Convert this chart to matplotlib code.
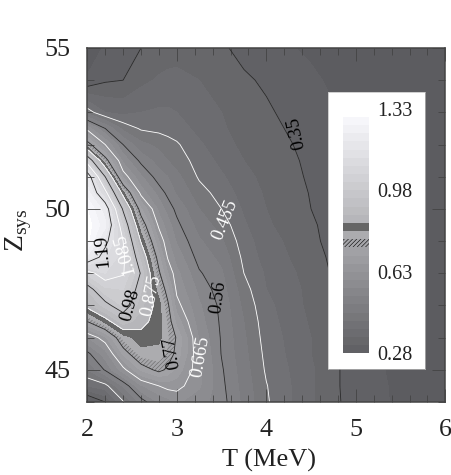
import numpy as np
import matplotlib
matplotlib.use('Agg')
import matplotlib.pyplot as plt
from matplotlib.colors import ListedColormap, BoundaryNorm

plt.rcParams['font.family'] = 'Liberation Serif'
plt.rcParams['mathtext.fontset'] = 'custom'
plt.rcParams['mathtext.rm'] = 'Liberation Serif'
plt.rcParams['hatch.linewidth'] = 0.4
plt.rcParams['hatch.color'] = '#666666'

temps = [2, 2.2, 2.4, 2.6, 2.8, 2.9, 3, 3.25, 3.5, 3.75, 4, 4.5, 5, 5.5, 6]
zsys = [55, 54, 53, 52.5, 52, 51.5, 51, 50.5, 50, 49.5, 49, 48.5, 48, 47.5, 47, 46.5, 46, 45.5, 45, 44.5, 44]

# one row per zsys, one column per temps
values = [
    [.29, .32, .335, .35, .36, .365, .37, .365, .355, .34, .325, .31, .295, .29, .285],
    [.32, .345, .35, .375, .39, .395, .395, .385, .37, .355, .345, .32, .30, .295, .285],
    [.475, .42, .41, .42, .425, .425, .42, .40, .385, .365, .355, .33, .305, .295, .285],
    [.65, .56, .48, .45, .445, .44, .435, .41, .39, .37, .36, .335, .308, .298, .285],
    [.80, .665, .56, .50, .48, .47, .46, .425, .40, .375, .365, .34, .31, .30, .29],
    [1.05, .80, .62, .55, .51, .49, .475, .44, .41, .385, .37, .343, .312, .30, .29],
    [1.24, .98, .69, .60, .54, .525, .50, .45, .425, .395, .375, .345, .315, .30, .29],
    [1.28, 1.11, .85, .65, .58, .55, .52, .47, .44, .405, .38, .348, .315, .302, .29],
    [1.33, 1.24, .97, .74, .62, .58, .55, .49, .455, .415, .385, .35, .318, .302, .29],
    [1.35, 1.27, 1.04, .81, .655, .61, .57, .51, .475, .425, .39, .355, .32, .302, .29],
    [1.34, 1.21, 1.085, .87, .70, .635, .59, .53, .495, .435, .40, .358, .32, .305, .29],
    [1.25, 1.16, 1.10, .93, .745, .66, .615, .545, .515, .445, .405, .365, .32, .305, .29],
    [1.06, 1.12, 1.09, .975, .78, .70, .64, .565, .53, .455, .415, .37, .322, .305, .29],
    [.95, 1.04, 1.05, .95, .82, .745, .655, .585, .54, .47, .42, .375, .322, .305, .29],
    [.895, .96, 1.02, .92, .855, .78, .68, .60, .55, .48, .43, .375, .322, .305, .29],
    [.77, .85, .93, .89, .855, .80, .72, .61, .553, .49, .435, .38, .325, .305, .29],
    [.627, .69, .82, .86, .85, .81, .765, .625, .556, .495, .44, .385, .325, .308, .295],
    [.55, .612, .74, .825, .825, .80, .755, .635, .558, .50, .445, .385, .325, .308, .295],
    [.49, .565, .65, .74, .785, .76, .72, .64, .565, .505, .45, .39, .328, .308, .295],
    [.42, .44, .53, .625, .665, .68, .68, .635, .57, .51, .457, .39, .328, .31, .295],
    [.30, .35, .45, .54, .60, .615, .635, .61, .575, .515, .46, .39, .33, .31, .295],
]

levels = [round(0.28 + 0.035 * k, 3) for k in range(31)]
black_levels = [0.35, 0.56, 0.77, 0.98, 1.19]
white_levels = [0.455, 0.665, 0.875, 1.085]
bar_ticks = [0.28, 0.63, 0.98, 1.33]

# text, T, Z, rotation, colour
line_labels = [
    ('0.35', 4.34, 52.35, 102, 'black'),
    ('0.455', 3.54, 49.65, 68, 'white'),
    ('0.56', 3.46, 47.26, 82, 'black'),
    ('0.665', 3.26, 45.4, 80, 'white'),
    ('0.77', 2.95, 45.55, 100, 'black'),
    ('0.875', 2.72, 47.3, 78, 'white'),
    ('0.98', 2.48, 47.0, 75, 'black'),
    ('1.085', 2.42, 48.6, 105, 'white'),
    ('1.19', 2.17, 48.7, 95, 'black'),
]

greys = np.linspace(92, 246, 30) / 255
colors = [(g, g, min(g + 0.015, 1)) for g in greys]
colors[16] = '#666666'
cmap = ListedColormap(colors)
cmap.set_under(colors[0])
cmap.set_over('white')
norm = BoundaryNorm(levels, 30)

fig = plt.figure(figsize=(4.51, 4.75), dpi=100)
ax = fig.add_axes([87.3 / 451, 73 / 475, 358 / 451, 354 / 475])

ax.contourf(temps, zsys, values, levels=levels, cmap=cmap, norm=norm, extend='both')
ax.contourf(temps, zsys, values, levels=[0.77, 0.805], colors='none', hatches=['////////'])
ax.contour(temps, zsys, values, levels=black_levels, colors='#2a2a2a', linewidths=0.6)
ax.contour(temps, zsys, values, levels=white_levels, colors='white', linewidths=0.6)

for text, t, z, rot, col in line_labels:
    ax.text(t, z, text, rotation=rot, color=col, fontsize=13.5, ha='center', va='center',
            rotation_mode='anchor')

ax.set_xlim(2, 6)
ax.set_ylim(44, 55)
ax.set_xticks([2, 3, 4, 5, 6])
ax.set_xticks(np.arange(2, 6.01, 0.2), minor=True)
ax.set_yticks([45, 50, 55])
ax.set_yticks(np.arange(44, 55.01, 1), minor=True)
ax.tick_params(which='major', direction='in', length=9.4, width=0.6, color='#444444',
               top=True, right=True, labelsize=18.7, pad=12, labelcolor='#222222')
ax.tick_params(which='minor', direction='in', length=5, width=0.6, color='#444444',
               top=True, right=True)
for s in ax.spines.values():
    s.set_linewidth(1.1)
    s.set_color('#444444')

fig.text(269 / 451, 1 - 460 / 475, 'T (MeV)', fontsize=19, color='#222222', ha='center', va='center')
fig.text(19 / 451, 1 - 230 / 475, r'Z$_{\mathrm{sys}}$', fontsize=20, color='#222222',
         rotation=90, ha='center', va='center')

# colour bar on its white box
box = fig.add_axes([328.3 / 451, 1 - 369 / 475, 96.7 / 451, 277 / 475])
box.set_xticks([])
box.set_yticks([])
for s in box.spines.values():
    s.set_linewidth(0.5)
    s.set_color('#bbbbbb')

bar = fig.add_axes([342.7 / 451, 1 - 353.3 / 475, 26.3 / 451, 236.3 / 475])
bar.pcolormesh([0, 1], levels[1:], np.array(levels[1:-1]).reshape(-1, 1) + 0.01, cmap=cmap, norm=norm)
bar.bar(0.5, 0.035, width=1, bottom=0.77, fill=False, hatch='////////', linewidth=0)
bar.set_xlim(0, 1)
bar.set_ylim(levels[1], levels[-1])
bar.axis('off')
for v in bar_ticks:
    bar.annotate('%.2f' % v, xy=(1, v), xycoords=('axes fraction', 'data'), xytext=(6, 4),
                 textcoords='offset points', fontsize=14.5, color='#222222', va='center',
                 annotation_clip=False)

fig.savefig('out.png', dpi=100)
